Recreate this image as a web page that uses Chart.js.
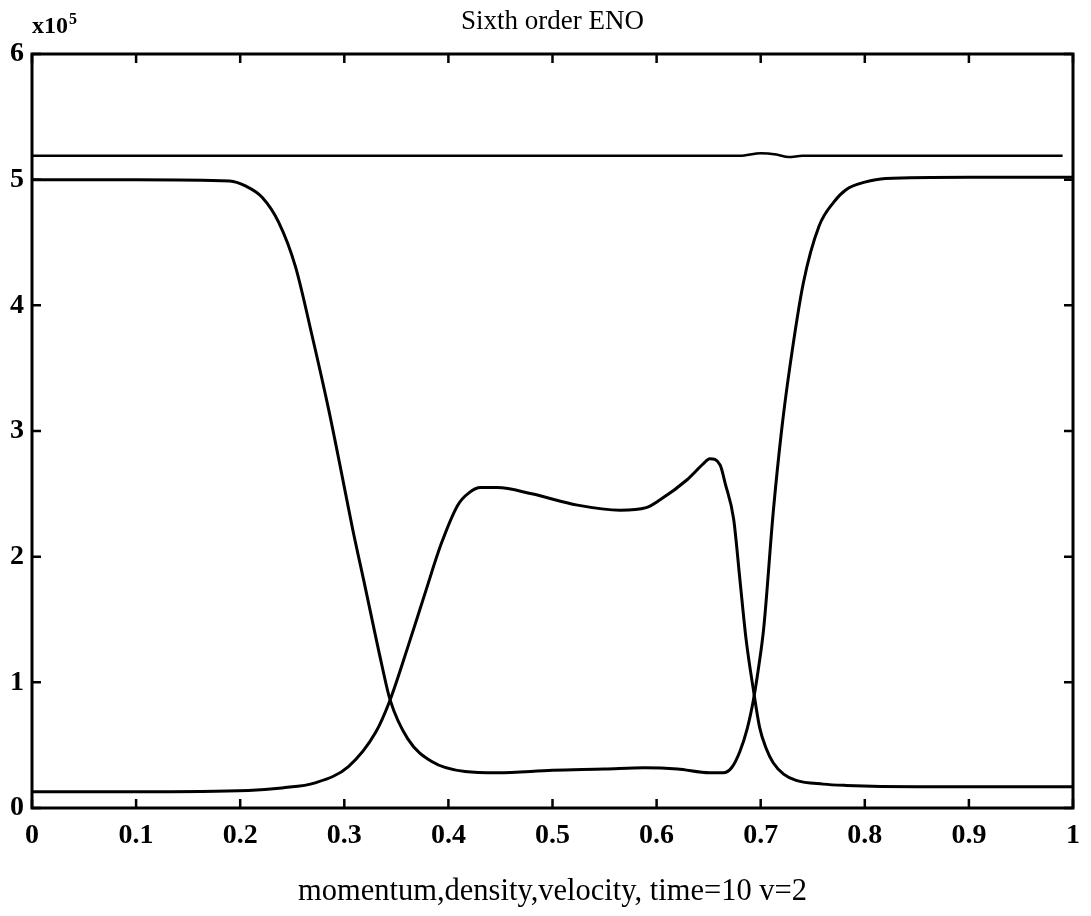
<!DOCTYPE html>
<html>
<head>
<meta charset="utf-8">
<script src="https://cdn.jsdelivr.net/npm/chart.js@4.4.1/dist/chart.umd.min.js"></script>
<style>
  html, body { margin: 0; padding: 0; background: #fff; }
  #wrap { width: 1091px; height: 916px; }
</style>
</head>
<body>
<div id="wrap"><canvas id="enoChart"></canvas></div>
<script>
// ======================================================
// DATA (units of 1e5)
// ======================================================
const momentumX = [0, 0.1, 0.19, 0.205, 0.221, 0.237, 0.253, 0.269, 0.285, 0.297, 0.308, 0.320, 0.336, 0.344, 0.361, 0.384, 0.416, 0.447, 0.50, 0.55, 0.588, 0.62, 0.651, 0.664, 0.672, 0.680, 0.687, 0.693, 0.698, 0.703, 0.712, 0.720, 0.728, 0.741, 0.756, 0.770, 0.782, 0.80, 0.82, 0.9, 1.0];
const momentumY = [5.0, 5.0, 4.99, 4.95, 4.86, 4.66, 4.31, 3.76, 3.17, 2.68, 2.22, 1.76, 1.14, 0.86, 0.55, 0.37, 0.29, 0.28, 0.30, 0.31, 0.32, 0.31, 0.28, 0.28, 0.32, 0.45, 0.63, 0.86, 1.12, 1.44, 2.35, 3.0, 3.51, 4.18, 4.63, 4.82, 4.92, 4.98, 5.01, 5.02, 5.02];

const densityX = [0, 0.1, 0.208, 0.24, 0.272, 0.304, 0.330, 0.344, 0.361, 0.378, 0.393, 0.409, 0.420, 0.431, 0.447, 0.48, 0.524, 0.565, 0.590, 0.603, 0.629, 0.645, 0.651, 0.661, 0.666, 0.674, 0.680, 0.686, 0.693, 0.699, 0.705, 0.712, 0.722, 0.734, 0.760, 0.782, 0.85, 1.0];
const densityY = [0.13, 0.13, 0.14, 0.16, 0.20, 0.33, 0.60, 0.86, 1.28, 1.72, 2.10, 2.41, 2.51, 2.55, 2.55, 2.50, 2.41, 2.37, 2.39, 2.45, 2.61, 2.74, 2.78, 2.73, 2.58, 2.30, 1.82, 1.34, 0.94, 0.64, 0.48, 0.36, 0.27, 0.22, 0.19, 0.18, 0.17, 0.17];

const velocityX = [0, 0.1, 0.2, 0.3, 0.4, 0.5, 0.6, 0.68, 0.70, 0.715, 0.727, 0.74, 0.75, 0.85, 0.99];
const velocityY = [5.19, 5.19, 5.19, 5.19, 5.19, 5.19, 5.19, 5.19, 5.21, 5.20, 5.18, 5.19, 5.19, 5.19, 5.19];

const xTicks = [0, 0.1, 0.2, 0.3, 0.4, 0.5, 0.6, 0.7, 0.8, 0.9, 1];
const yTicks = [0, 1, 2, 3, 4, 5, 6];

const titleText = "Sixth order ENO";
const xLabelText = "momentum,density,velocity, time=10 v=2";

const toPoints = (xs, ys) => xs.map((x, i) => ({ x, y: ys[i] }));

// ======================================================
// PLUGIN — box frame, inward ticks, x10^5 multiplier
// ======================================================
const frameTicks = {
  id: "frameTicks",
  afterDatasetsDraw(chart) {
    const { ctx, chartArea: a, scales: { x, y } } = chart;
    const len = 9;
    ctx.save();
    ctx.strokeStyle = "#000";
    ctx.lineWidth = 3;
    ctx.strokeRect(a.left, a.top, a.right - a.left, a.bottom - a.top);

    ctx.lineWidth = 2.5;
    ctx.beginPath();
    xTicks.forEach(v => {
      const px = x.getPixelForValue(v);
      ctx.moveTo(px, a.bottom); ctx.lineTo(px, a.bottom - len);
      ctx.moveTo(px, a.top);    ctx.lineTo(px, a.top + len);
    });
    yTicks.forEach(v => {
      const py = y.getPixelForValue(v);
      ctx.moveTo(a.left, py);  ctx.lineTo(a.left + len, py);
      ctx.moveTo(a.right, py); ctx.lineTo(a.right - len, py);
    });
    ctx.stroke();

    ctx.fillStyle = "#000";
    ctx.textBaseline = "alphabetic";
    ctx.textAlign = "left";
    ctx.font = 'bold 24px "Liberation Serif"';
    ctx.fillText("x10", 32, 33);
    const w = ctx.measureText("x10").width;
    ctx.font = 'bold 16px "Liberation Serif"';
    ctx.fillText("5", 32 + w + 1, 24);
    ctx.restore();
  }
};

// ======================================================
// CHART
// ======================================================
const lineStyle = {
  borderColor: "#000",
  borderWidth: 3,
  pointRadius: 0,
  cubicInterpolationMode: "monotone",
  fill: false
};

new Chart(document.getElementById("enoChart"), {
  type: "line",
  data: {
    datasets: [
      { label: "momentum", data: toPoints(momentumX, momentumY), ...lineStyle },
      { label: "density",  data: toPoints(densityX, densityY),   ...lineStyle },
      { label: "velocity", data: toPoints(velocityX, velocityY), ...lineStyle, borderWidth: 2.5 }
    ]
  },
  options: {
    responsive: true,
    maintainAspectRatio: false,
    animation: false,
    layout: { padding: { left: 0, right: 13, top: 0, bottom: 0 } },
    scales: {
      x: {
        type: "linear",
        min: 0,
        max: 1,
        afterBuildTicks: s => { s.ticks = xTicks.map(v => ({ value: v })); },
        afterFit: s => { s.height = 108; },
        grid: { display: false, drawTicks: false },
        border: { display: false },
        ticks: {
          padding: 11,
          color: "#000",
          font: { family: "Liberation Serif", size: 28, weight: "bold" },
          callback: v => (v === 0 || v === 1) ? String(v) : v.toFixed(1)
        },
        title: {
          display: true,
          text: xLabelText,
          color: "#000",
          font: { family: "Liberation Serif", size: 30.5 },
          padding: { top: 0, bottom: 6 }
        }
      },
      y: {
        min: 0,
        max: 6,
        afterBuildTicks: s => { s.ticks = yTicks.map(v => ({ value: v })); },
        afterFit: s => { s.width = 32; },
        grid: { display: false, drawTicks: false },
        border: { display: false },
        ticks: {
          padding: 8,
          color: "#000",
          font: { family: "Liberation Serif", size: 28, weight: "bold" }
        }
      }
    },
    plugins: {
      legend: { display: false },
      tooltip: { enabled: false },
      title: {
        display: true,
        fullSize: false,
        text: titleText,
        color: "#000",
        font: { family: "Liberation Serif", size: 27, weight: "normal" },
        padding: { top: 6, bottom: 15.6 }
      }
    }
  },
  plugins: [frameTicks]
});
</script>
</body>
</html>
